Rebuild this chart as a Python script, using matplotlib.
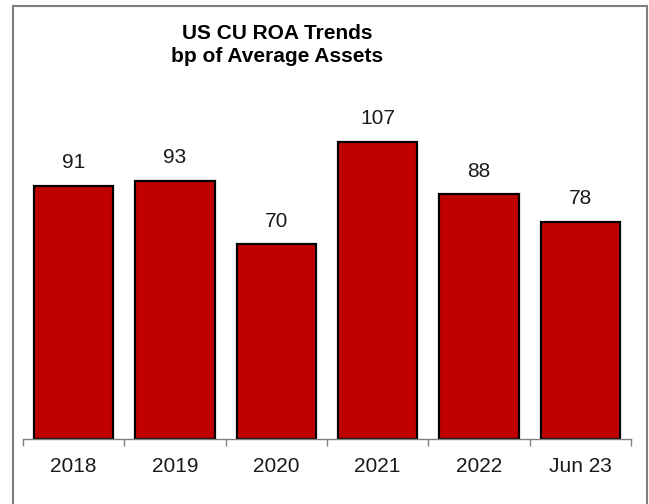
import matplotlib
matplotlib.use("Agg")
import matplotlib.pyplot as plt
from matplotlib.patches import Rectangle

periods = ["2018", "2019", "2020", "2021", "2022", "Jun 23"]
roa_bp = [91, 93, 70, 107, 88, 78]

plt.rcParams['font.family'] = ['Liberation Sans', 'DejaVu Sans']

fig = plt.figure(figsize=(6.49, 5.04), dpi=100)
ax = fig.add_axes([23 / 649, 65 / 504, 608 / 649, 339 / 504])

x = range(len(periods))
bars = ax.bar(x, roa_bp, width=0.78, color='#C00000', edgecolor='black', linewidth=1.6)
ax.bar_label(bars, labels=[str(v) for v in roa_bp], padding=10, fontsize=15, color='#1a1a1a')

ax.set_xlim(-0.5, len(periods) - 0.5)
ax.set_ylim(0, 122)

# category labels centred, tick marks on the category boundaries
ax.set_xticks(list(x))
ax.set_xticklabels(periods, fontsize=15, color='#1a1a1a')
ax.tick_params(axis='x', which='major', length=0, pad=13)
ax.set_xticks([i - 0.5 for i in range(len(periods) + 1)], minor=True)
ax.tick_params(axis='x', which='minor', length=5, width=1, color='#808080', direction='out')

ax.set_yticks([])
for side in ['top', 'right', 'left']:
    ax.spines[side].set_visible(False)
ax.spines['bottom'].set_color('#808080')
ax.spines['bottom'].set_linewidth(1)

fig.text(277 / 649, 1 - 45 / 504, "US CU ROA Trends\nbp of Average Assets",
         ha='center', va='center', fontsize=15, fontweight='bold', linespacing=1.25)

# chart border
fig.patches.append(Rectangle((12.5 / 649, -0.01), 634 / 649, 1.01 - 5.5 / 504,
                             transform=fig.transFigure, fill=False,
                             edgecolor='#7f7f7f', linewidth=1.5))

fig.savefig("out.png", dpi=100)
